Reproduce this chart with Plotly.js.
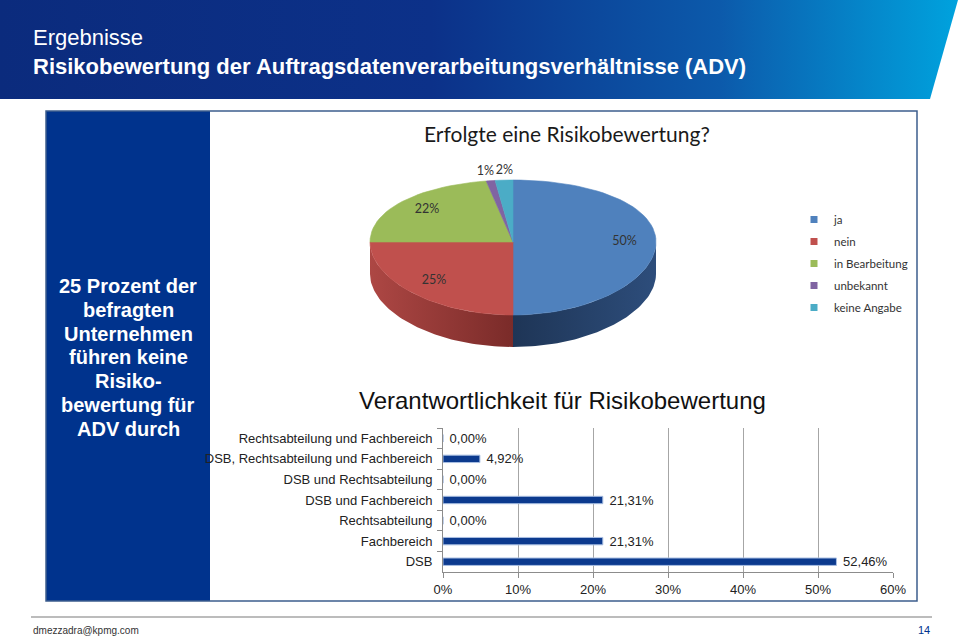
<!DOCTYPE html>
<html>
<head>
<meta charset="utf-8">
<script src="https://cdn.plot.ly/plotly-3.0.1.min.js"></script>
<style>
  html, body { margin:0; padding:0; background:#ffffff; }
  #banner { position:absolute; left:0; top:0; width:960px; height:99px;
    background: linear-gradient(90deg, #0b2b7d 0%, #0c3189 45%, #0c5aab 75%, #00a3de 100%);
    clip-path: polygon(0 0, 958px 0, 930px 99px, 0 99px); }
  #chart { position:absolute; left:0; top:0; width:960px; height:639px; }
</style>
</head>
<body>
<div id="banner"></div>
<div id="chart"></div>
<script>
// ---------- data ----------
const pieLabels = ['ja', 'nein', 'in Bearbeitung', 'unbekannt', 'keine Angabe'];
const pieValues = [50, 25, 22, 1, 2];
const pieColors = ['#4F81BD', '#C0504D', '#9BBB59', '#8064A2', '#4BACC6'];
const pieSideColors = [['#1e3556', '#2d4d7b'], ['#ad4744', '#7a2b29'], ['#6f8a3b', '#5a7230'], ['#5a4677', '#4a3a63'], ['#2f8298', '#276c7e']];

const barCategories = ['Rechtsabteilung und Fachbereich', 'DSB, Rechtsabteilung und Fachbereich', 'DSB und Rechtsabteilung', 'DSB und Fachbereich', 'Rechtsabteilung', 'Fachbereich', 'DSB'];
const barValues = [0, 4.92, 0, 21.31, 0, 21.31, 52.46];
const barTickVals = [0, 10, 20, 30, 40, 50, 60];
const barTickText = ['0%', '10%', '20%', '30%', '40%', '50%', '60%'];

const panelLines = ['25 Prozent der', 'befragten', 'Unternehmen', 'führen keine', 'Risiko-', 'bewertung für', 'ADV durch'];

// ---------- helpers ----------
const W = 960, H = 639;
const px = x => x / W;
const py = y => 1 - y / H;
const ARIAL = 'Liberation Sans, Arial, sans-serif';
const CAL = 'Lato, Carlito, Calibri, sans-serif';

// pie geometry (pixel axes x2/y2)
const CX = 513, CY = 242, RX = 143, RY = 67.5, PERS = 5.5, DEPTH = 32;
function pt(t, r) {
  const v = -Math.cos(t);
  return [CX + r * RX * Math.sin(t), CY + r * (RY * v + PERS * v * v)];
}

const traces = [];
const total = pieValues.reduce((a, b) => a + b, 0);
let cum = 0;
const slices = pieValues.map(v => { const s = { f0: cum / total, f1: (cum + v) / total }; cum += v; return s; });

// sides (front, visible part)
slices.forEach((s, i) => {
  const t0 = 2 * Math.PI * s.f0, t1 = 2 * Math.PI * s.f1;
  const s0 = Math.max(t0, Math.PI / 2), s1 = Math.min(t1, 3 * Math.PI / 2);
  if (s1 <= s0) return;
  const xs = [], ys = [];
  const N = 60;
  for (let k = 0; k <= N; k++) { const p = pt(s0 + (s1 - s0) * k / N, 1); xs.push(p[0]); ys.push(p[1]); }
  for (let k = N; k >= 0; k--) { const p = pt(s0 + (s1 - s0) * k / N, 1); xs.push(p[0]); ys.push(p[1] + DEPTH); }
  traces.push({
    type: 'scatter', mode: 'lines', x: xs, y: ys, xaxis: 'x2', yaxis: 'y2',
    fill: 'toself', fillcolor: pieSideColors[i][0],
    fillgradient: { type: 'horizontal', colorscale: [[0, pieSideColors[i][0]], [1, pieSideColors[i][1]]] },
    line: { width: 0 }, showlegend: false, hoverinfo: 'skip'
  });
});

// top faces
slices.forEach((s, i) => {
  const t0 = 2 * Math.PI * s.f0, t1 = 2 * Math.PI * s.f1;
  const c = pt(0, 0);
  const xs = [c[0]], ys = [c[1]];
  const N = Math.max(4, Math.round(120 * (s.f1 - s.f0)));
  for (let k = 0; k <= N; k++) { const p = pt(t0 + (t1 - t0) * k / N, 1); xs.push(p[0]); ys.push(p[1]); }
  xs.push(c[0]); ys.push(c[1]);
  traces.push({
    type: 'scatter', mode: 'lines', x: xs, y: ys, xaxis: 'x2', yaxis: 'y2',
    fill: 'toself', fillcolor: pieColors[i], line: { width: 0.6, color: pieColors[i] },
    showlegend: false, hoverinfo: 'skip'
  });
});

// pie labels (small slices outside, spread apart if they collide)
const lbl = slices.map((s, i) => {
  const tm = Math.PI * (s.f0 + s.f1);
  const outside = (s.f1 - s.f0) < 0.05;
  const p = pt(tm, outside ? 1.15 : 0.78);
  return { x: p[0], y: p[1], outside: outside, text: pieValues[i] + '%' };
});
const outs = lbl.filter(l => l.outside).sort((a, b) => a.x - b.x);
for (let k = 1; k < outs.length; k++) {
  const gap = outs[k].x - outs[k - 1].x;
  if (gap < 19) { const d = (19 - gap) / 2; outs[k - 1].x -= d; outs[k].x += d; }
}
traces.push({
  type: 'scatter', mode: 'text', x: lbl.map(l => l.x), y: lbl.map(l => l.y), text: lbl.map(l => l.text),
  xaxis: 'x2', yaxis: 'y2',
  textposition: 'middle center', textfont: { family: CAL, size: 12.5, color: '#333333' },
  showlegend: false, hoverinfo: 'skip', cliponaxis: false
});

// legend entries
pieLabels.forEach((lab, i) => {
  traces.push({
    type: 'scatter', mode: 'markers', x: [null], y: [null], xaxis: 'x2', yaxis: 'y2',
    name: lab, legendgroup: 'g' + i,
    marker: { symbol: 'square', size: 7, color: pieColors[i] }, hoverinfo: 'skip'
  });
});

// bar chart
traces.push({
  type: 'bar', orientation: 'h', x: barValues, y: barCategories,
  width: 0.36,
  marker: { color: '#0c3a8e', line: { color: '#a9bfe2', width: 1 } },
  text: barValues.map(v => '\u00a0' + v.toFixed(2).replace('.', ',') + '%'),
  textposition: 'outside', cliponaxis: false, constraintext: 'none',
  textfont: { family: ARIAL, size: 13, color: '#222222' },
  showlegend: false, hoverinfo: 'skip'
});

function ann(text, x, y, xanchor, size, color, family, extra) {
  return Object.assign({
    text: text, xref: 'paper', yref: 'paper', x: px(x), y: py(y),
    xanchor: xanchor, yanchor: 'middle', showarrow: false,
    font: { family: family, size: size, color: color }
  }, extra || {});
}

const annotations = [
  ann('Ergebnisse', 31, 38, 'left', 22, '#ffffff', ARIAL),
  ann('<b>Risikobewertung der Auftragsdatenverarbeitungsverhältnisse (ADV)</b>', 31, 67, 'left', 22, '#ffffff', ARIAL),
  ann('Erfolgte eine Risikobewertung?', 567, 133, 'center', 21, '#1a1a1a', CAL),
  ann('Verantwortlichkeit für Risikobewertung', 562, 401, 'center', 24, '#111111', ARIAL),
  ann('dmezzadra@kpmg.com', 31, 630, 'left', 10, '#333333', ARIAL),
  ann('14', 932, 630, 'right', 11, '#00338D', ARIAL)
];
panelLines.forEach((line, k) => {
  annotations.push(ann('<b>' + line + '</b>', 128, 286 + 23.8 * k, 'center', 20, '#ffffff', ARIAL));
});

const layout = {
  width: W, height: H,
  margin: { l: 0, r: 0, t: 0, b: 0, pad: 0 },
  paper_bgcolor: 'rgba(0,0,0,0)', plot_bgcolor: 'rgba(0,0,0,0)',
  font: { family: ARIAL, color: '#222' },
  showlegend: true,
  legend: {
    x: px(794), y: py(205), xanchor: 'left', yanchor: 'top',
    bgcolor: 'rgba(0,0,0,0)', font: { family: CAL, size: 11.5, color: '#333' },
    tracegroupgap: 3, itemwidth: 30
  },
  xaxis: {
    domain: [px(443), px(893)], range: [0, 60], anchor: 'y',
    tickvals: barTickVals, ticktext: barTickText,
    showgrid: true, gridcolor: '#a6a6a6', gridwidth: 1,
    showline: true, linecolor: '#8c8c8c', linewidth: 1,
    ticks: 'outside', ticklen: 5, tickcolor: '#8c8c8c',
    zeroline: false, tickfont: { family: ARIAL, size: 13, color: '#222' }, fixedrange: true
  },
  yaxis: {
    domain: [py(572), py(428)], anchor: 'x', type: 'category',
    categoryorder: 'array', categoryarray: barCategories,
    range: [barCategories.length - 0.5, -0.5], autorange: false,
    showline: true, linecolor: '#8c8c8c', linewidth: 1,
    ticks: 'outside', ticklen: 5, tickcolor: '#8c8c8c', tickson: 'boundaries',
    showgrid: false, zeroline: false, ticklabelstandoff: 7,
    tickfont: { family: ARIAL, size: 13, color: '#222' }, fixedrange: true
  },
  xaxis2: { domain: [0, 1], range: [0, W], anchor: 'y2', visible: false, fixedrange: true },
  yaxis2: { domain: [0, 1], range: [H, 0], anchor: 'x2', visible: false, fixedrange: true },
  shapes: [
    { type: 'rect', xref: 'paper', yref: 'paper', x0: px(46), x1: px(210), y0: py(601), y1: py(111),
      fillcolor: '#00338D', line: { width: 0 }, layer: 'below' },
    { type: 'rect', xref: 'paper', yref: 'paper', x0: px(46), x1: px(917), y0: py(601), y1: py(111),
      line: { color: '#3d5d8d', width: 1.5 }, layer: 'below' },
    { type: 'line', xref: 'paper', yref: 'paper', x0: px(31), x1: px(932), y0: py(617), y1: py(617),
      line: { color: '#a6a6a6', width: 1.5 } }
  ],
  annotations: annotations
};

Plotly.newPlot('chart', traces, layout, { staticPlot: true, displayModeBar: false });
</script>
</body>
</html>
